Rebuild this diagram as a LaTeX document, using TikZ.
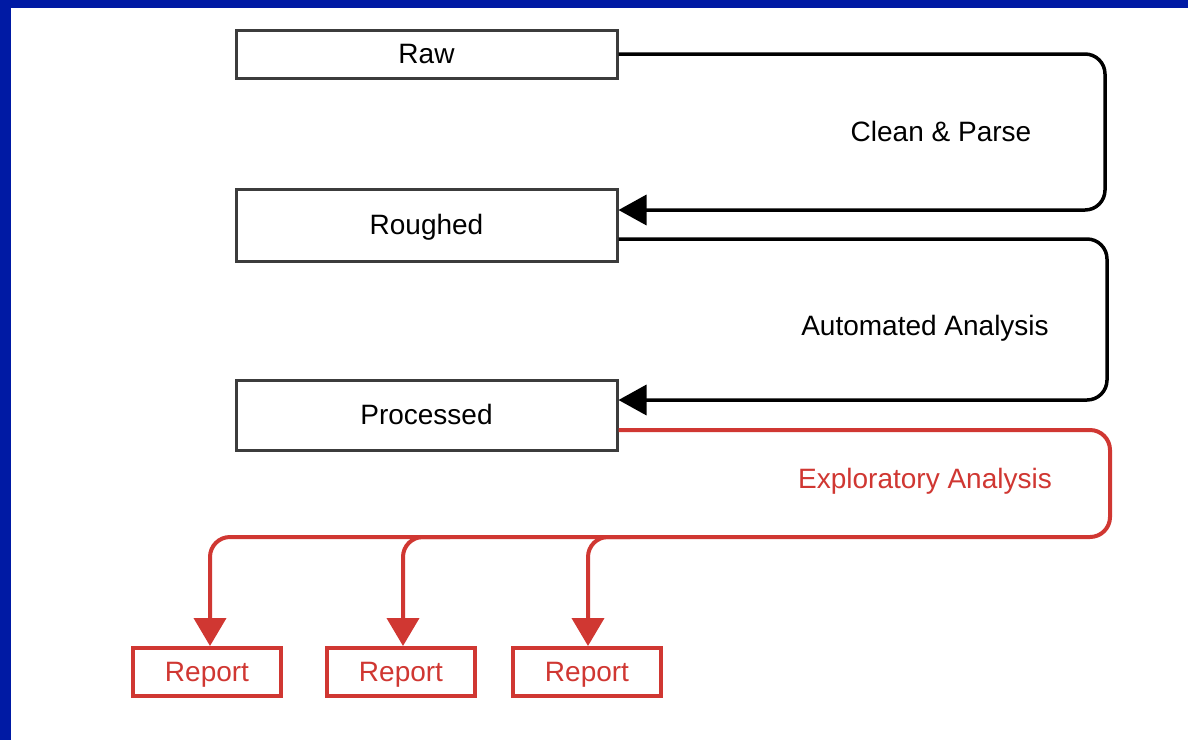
\documentclass[tikz,border=0pt]{standalone}
\usepackage{fontspec}
\setmainfont{Liberation Sans}
\usetikzlibrary{arrows.meta}
\definecolor{frameblue}{RGB}{0,26,164}
\definecolor{flowred}{RGB}{208,55,50}
\definecolor{boxgray}{RGB}{60,60,60}
\tikzset{
  boxtext/.style={font=\fontsize{28}{32}\selectfont, text height=19pt, text depth=1pt},
  stage/.style={boxtext, draw=boxgray, line width=3pt, minimum width=381pt, inner sep=0pt},
  report/.style={boxtext, draw=flowred, line width=4pt, minimum width=148pt, minimum height=48pt, inner sep=0pt, text=flowred},
  flow/.style={draw=black, line width=3.5pt, rounded corners=20pt, -{Triangle[length=28pt,width=30pt]}},
  redflow/.style={draw=flowred, line width=4pt, rounded corners=20pt, -{Triangle[length=28pt,width=32pt]}},
  steplabel/.style={font=\fontsize{28}{32}\selectfont}
}
\begin{document}
\begin{tikzpicture}[x=1pt,y=-1pt]
  % page with blue frame on top and left
  \fill[frameblue] (0,0) rectangle (1188,740);
  \fill[white] (11,8) rectangle (1188,740);
  \useasboundingbox (0,0) rectangle (1188,740);

  % data stages
  \node[stage, minimum height=48pt] (raw) at (426.5,54) {Raw};
  \node[stage, minimum height=72pt] (rough) at (426.5,225) {Roughed};
  \node[stage, minimum height=70pt] (proc) at (426.5,415) {Processed};

  % reports
  \node[report] (r1) at (207,672) {Report};
  \node[report] (r2) at (401,672) {Report};
  \node[report] (r3) at (587,672) {Report};

  % step labels
  \node[steplabel] (clean) at (941,131) {Clean \& Parse};
  \node[steplabel] (auto) at (925,328) {Automated Analysis};
  \node[steplabel, text=flowred] (explore) at (925,481) {Exploratory Analysis};

  % automated steps
  \draw[flow] (raw.east) -- (1105,54) -- (1105,210) -- ([yshift=15pt]rough.east);
  \draw[flow] ([yshift=-14pt]rough.east) -- (1107,239) -- (1107,400) -- ([yshift=15pt]proc.east);

  % exploratory analysis fans out to reports
  \coordinate (fork2) at (450,537);
  \coordinate (fork3) at (630,537);
  \draw[redflow] ([yshift=-15pt]proc.east) -- (1110,430) -- (1110,537) -- (210,537) -- ([xshift=3pt]r1.north);
  \draw[redflow] (fork2) -- (403,537) -- ([xshift=2pt]r2.north);
  \draw[redflow] (fork3) -- (588,537) -- ([xshift=1pt]r3.north);
\end{tikzpicture}
\end{document}
